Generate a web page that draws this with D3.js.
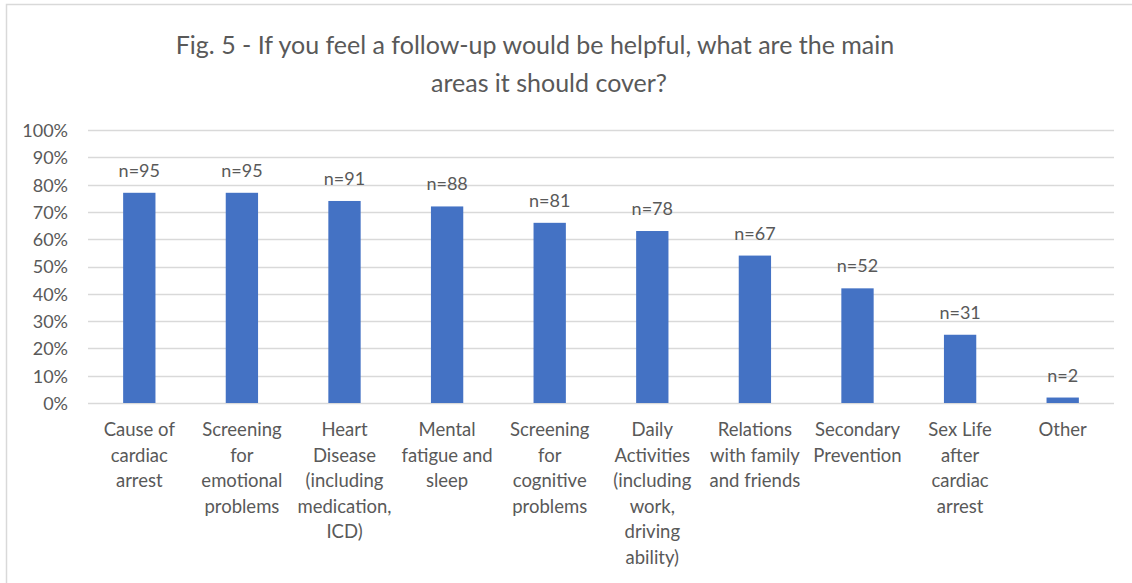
<!DOCTYPE html>
<html><head><meta charset="utf-8">
<script src="https://cdn.jsdelivr.net/npm/d3@7"></script>
<style>html,body{margin:0;padding:0;background:#fff;}svg{display:block;}</style>
</head><body>
<script>
const categories = [
  ["Cause of","cardiac","arrest"],
  ["Screening","for","emotional","problems"],
  ["Heart","Disease","(including","medication,","ICD)"],
  ["Mental","fatigue and","sleep"],
  ["Screening","for","cognitive","problems"],
  ["Daily","Activities","(including","work,","driving","ability)"],
  ["Relations","with family","and friends"],
  ["Secondary","Prevention"],
  ["Sex Life","after","cardiac","arrest"],
  ["Other"]
];
const percentValues = [77, 77, 74, 72, 66, 63, 54, 42, 25, 2];
const countLabels = ["n=95","n=95","n=91","n=88","n=81","n=78","n=67","n=52","n=31","n=2"];
const yTicks = [0,10,20,30,40,50,60,70,80,90,100];
const titleLines = ["Fig. 5 - If you feel a follow-up would be helpful, what are the main","areas it should cover?"];

const W = 1132, H = 583;
const FONT = "Lato, 'Open Sans', sans-serif";
const TXT = "#595959";
const svg = d3.select("body").append("svg").attr("width", W).attr("height", H);
svg.append("rect").attr("width", W).attr("height", H).attr("fill", "#fff");
// chart border
svg.append("path").attr("d", `M6.5,${H} L6.5,4.5 L${W},4.5`).attr("fill","none").attr("stroke","#d9d9d9").attr("stroke-width",1.5);

const m = {left: 88, right: 1114, top: 130, bottom: 403};
const x = d3.scaleBand().domain(d3.range(categories.length)).range([m.left, m.right]).padding(0);
const y = d3.scaleLinear().domain([0, 100]).range([m.bottom, m.top]);

// gridlines
svg.append("g").selectAll("line").data(yTicks).join("line")
  .attr("x1", m.left).attr("x2", m.right)
  .attr("y1", d => Math.round(y(d)) + 0.5).attr("y2", d => Math.round(y(d)) + 0.5)
  .attr("stroke", "#d9d9d9").attr("stroke-width", 1.3);

// y axis labels
const yAxis = d3.axisLeft(y).tickValues(yTicks).tickFormat(d => d + "%").tickSize(0).tickPadding(0);
const ya = svg.append("g").attr("transform", `translate(68,0)`).call(yAxis);
ya.select(".domain").remove();
ya.selectAll("text").attr("font-family", FONT).attr("font-size", 18).attr("fill", TXT).attr("dy", "0.36em");

// bars
const barW = x.bandwidth() * 0.315;
svg.append("g").selectAll("rect").data(percentValues).join("rect")
  .attr("x", (d, i) => x(i) + x.bandwidth() / 2 - barW / 2)
  .attr("width", barW)
  .attr("y", d => y(d))
  .attr("height", d => y(0) - y(d))
  .attr("fill", "#4472C4");

// value labels
svg.append("g").selectAll("text").data(percentValues).join("text")
  .attr("x", (d, i) => x(i) + x.bandwidth() / 2)
  .attr("y", d => y(d) - 16)
  .attr("text-anchor", "middle")
  .attr("font-family", FONT).attr("font-size", 18).attr("fill", TXT)
  .text((d, i) => countLabels[i]);

// category labels
const cg = svg.append("g");
categories.forEach((lines, i) => {
  const t = cg.append("text")
    .attr("text-anchor", "middle")
    .attr("font-family", FONT).attr("font-size", 18.5).attr("fill", TXT);
  lines.forEach((ln, j) => {
    t.append("tspan").attr("x", x(i) + x.bandwidth() / 2).attr("y", 436 + j * 25.5).text(ln);
  });
});

// title
const tg = svg.append("g");
const titleX = [535, 549];
const titleY = [54, 92];
titleLines.forEach((ln, j) => {
  tg.append("text").attr("x", titleX[j]).attr("y", titleY[j])
    .attr("text-anchor", "middle")
    .attr("font-family", FONT).attr("font-size", 25).attr("fill", TXT)
    .text(ln);
});
</script>
</body></html>
